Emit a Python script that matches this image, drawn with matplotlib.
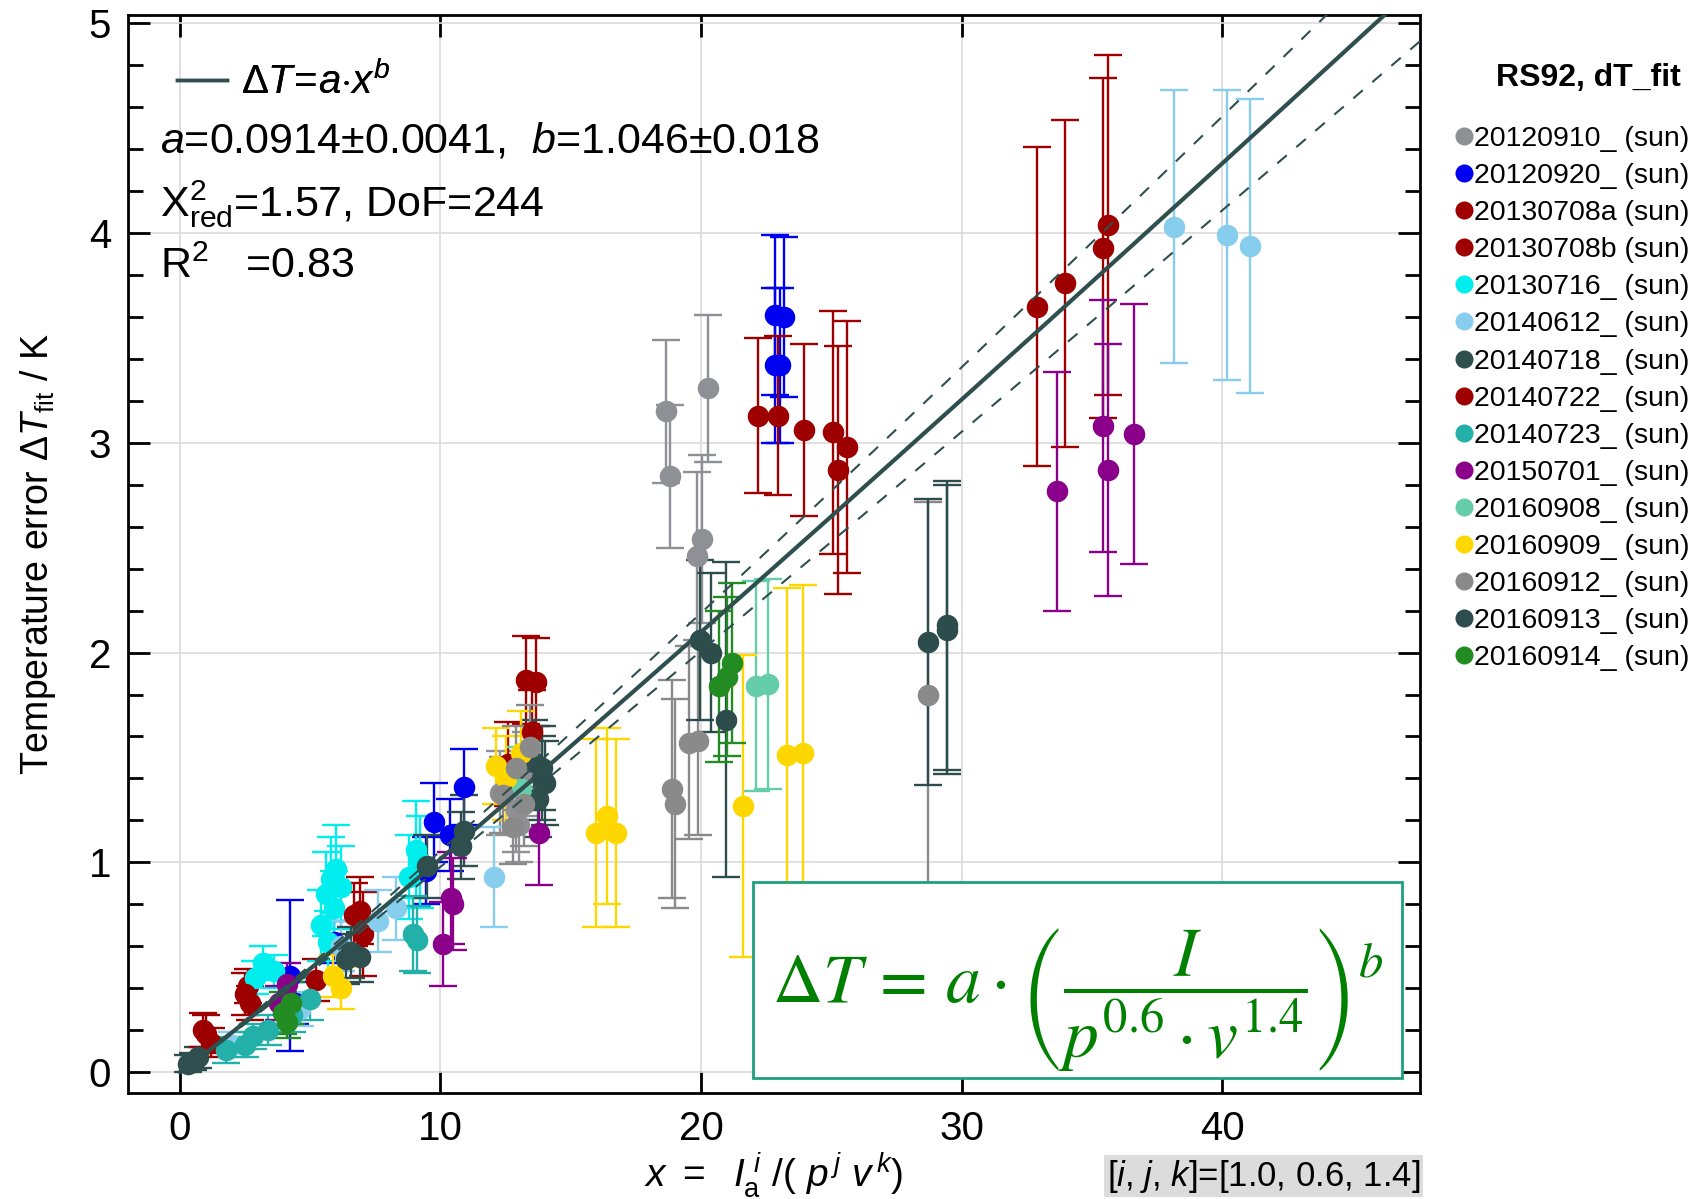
import numpy as np
import matplotlib
matplotlib.use('Agg')
import matplotlib.pyplot as plt
from matplotlib.lines import Line2D
from matplotlib.patches import Rectangle
from matplotlib.ticker import MultipleLocator

plt.rcParams['font.family'] = ['Liberation Sans', 'DejaVu Sans']
plt.rcParams['mathtext.fontset'] = 'custom'
plt.rcParams['mathtext.rm'] = 'Liberation Sans'
plt.rcParams['mathtext.it'] = 'Liberation Sans:italic'
plt.rcParams['mathtext.bf'] = 'Liberation Sans:bold'

# ---------------- data ----------------
series_names = ['20120910_ (sun)', '20120920_ (sun)', '20130708a (sun)', '20130708b (sun)',
                '20130716_ (sun)', '20140612_ (sun)', '20140718_ (sun)', '20140722_ (sun)',
                '20140723_ (sun)', '20150701_ (sun)', '20160908_ (sun)', '20160909_ (sun)',
                '20160912_ (sun)', '20160913_ (sun)', '20160914_ (sun)']
series_colors = ['#8f8f96', '#0000f0', '#9e0000', '#9e0000', '#00eeee', '#87cdee', '#2f4f4f',
                 '#9e0000', '#22b0a8', '#8b008b', '#66cdaa', '#ffd700', '#8a8a8a', '#2d4d4d',
                 '#228b22']
legend_title = 'RS92, dT_fit'

x_20120910 = [18.67, 18.8, 20.25, 20.04, 19.83, 12.3, 12.9, 13.3, 13.0]
y_20120910 = [3.15, 2.84, 3.26, 2.54, 2.46, 1.33, 1.25, 1.42, 1.18]
e_20120910 = [0.34, 0.34, 0.35, 0.40, 0.40, 0.2, 0.2, 0.2, 0.18]

x_20120920 = [22.83, 23.17, 22.83, 23.04, 9.77, 10.92, 10.35, 9.45, 4.21, 4.4, 5.9]
y_20120920 = [3.61, 3.60, 3.37, 3.37, 1.19, 1.36, 1.13, 0.96, 0.46, 0.33, 0.62]
e_20120920 = [0.38, 0.38, 0.37, 0.37, 0.19, 0.18, 0.17, 0.16, 0.36, 0.1, 0.1]

x_20130708a = [22.17, 22.96, 23.96, 13.29, 13.67, 6.9, 1.0, 1.2]
y_20130708a = [3.13, 3.13, 3.06, 1.87, 1.86, 0.77, 0.18, 0.14]
e_20130708a = [0.37, 0.38, 0.41, 0.21, 0.21, 0.16, 0.09, 0.07]

x_20130708b = [25.08, 25.25, 25.6, 7.02, 2.6, 2.7, 5.23, 13.5]
y_20130708b = [3.05, 2.87, 2.98, 0.66, 0.41, 0.33, 0.44, 1.62]
e_20130708b = [0.58, 0.59, 0.60, 0.2, 0.08, 0.08, 0.1, 0.2]

x_20130716 = [5.4, 5.6, 5.8, 6.0, 6.2, 5.7, 5.9, 9.07, 8.81, 9.2, 2.9, 3.2, 3.6]
y_20130716 = [0.70, 0.85, 0.92, 0.97, 0.88, 0.62, 0.78, 1.06, 0.93, 1.0, 0.45, 0.52, 0.48]
e_20130716 = [0.17, 0.2, 0.2, 0.21, 0.2, 0.15, 0.18, 0.23, 0.2, 0.22, 0.08, 0.08, 0.08]

x_20140612 = [38.13, 40.17, 41.08, 12.07, 7.6, 8.3, 2.0, 4.6, 6.2]
y_20140612 = [4.03, 3.99, 3.94, 0.93, 0.72, 0.78, 0.13, 0.30, 0.60]
e_20140612 = [0.65, 0.69, 0.70, 0.24, 0.15, 0.15, 0.06, 0.08, 0.12]

x_20140718 = [13.6, 13.9, 13.75, 10.92, 10.8, 6.38, 6.55, 6.9, 0.31, 0.5, 0.7, 9.5]
y_20140718 = [1.48, 1.40, 1.30, 1.15, 1.08, 0.54, 0.57, 0.55, 0.04, 0.05, 0.07, 0.98]
e_20140718 = [0.2, 0.2, 0.18, 0.17, 0.16, 0.12, 0.12, 0.12, 0.04, 0.04, 0.05, 0.15]

x_20140722 = [32.9, 33.96, 35.42, 35.63, 6.7, 0.9, 2.5, 12.6]
y_20140722 = [3.65, 3.76, 3.93, 4.04, 0.75, 0.2, 0.37, 1.47]
e_20140722 = [0.76, 0.78, 0.81, 0.81, 0.15, 0.08, 0.1, 0.2]

x_20140723 = [8.94, 9.1, 1.78, 2.5, 2.8, 3.4, 4.3, 5.0]
y_20140723 = [0.66, 0.63, 0.105, 0.13, 0.17, 0.2, 0.27, 0.35]
e_20140723 = [0.18, 0.16, 0.06, 0.06, 0.06, 0.07, 0.08, 0.1]

x_20150701 = [33.67, 35.42, 35.63, 36.63, 13.8, 10.41, 10.5, 10.09, 4.13, 3.8]
y_20150701 = [2.77, 3.08, 2.87, 3.04, 1.14, 0.83, 0.80, 0.61, 0.42, 0.33]
e_20150701 = [0.57, 0.60, 0.60, 0.62, 0.25, 0.22, 0.22, 0.2, 0.1, 0.08]

x_20160908 = [22.1, 22.56, 13.1]
y_20160908 = [1.84, 1.85, 1.35]
e_20160908 = [0.5, 0.5, 0.2]

x_20160909 = [15.97, 16.4, 16.74, 21.6, 23.3, 23.9, 12.14, 12.5, 13.1, 5.87, 6.2]
y_20160909 = [1.14, 1.22, 1.14, 1.27, 1.51, 1.52, 1.46, 1.40, 1.52, 0.46, 0.40]
e_20160909 = [0.45, 0.42, 0.45, 0.72, 0.8, 0.8, 0.18, 0.2, 0.2, 0.1, 0.1]

x_20160912 = [18.9, 19.0, 19.55, 19.9, 28.71, 12.4, 12.8, 13.2, 13.45, 12.9]
y_20160912 = [1.35, 1.28, 1.57, 1.58, 1.80, 1.32, 1.17, 1.28, 1.55, 1.45]
e_20160912 = [0.52, 0.5, 0.46, 0.45, 0.92, 0.18, 0.18, 0.2, 0.2, 0.2]

x_20160913 = [28.71, 29.42, 29.42, 19.96, 20.4, 20.96, 13.9, 14.0]
y_20160913 = [2.05, 2.13, 2.11, 2.06, 2.00, 1.68, 1.45, 1.38]
e_20160913 = [0.68, 0.69, 0.69, 0.38, 0.38, 0.75, 0.2, 0.2]

x_20160914 = [20.7, 21.0, 21.2, 3.95, 4.1, 4.25]
y_20160914 = [1.84, 1.885, 1.95, 0.28, 0.24, 0.33]
e_20160914 = [0.36, 0.38, 0.38, 0.1, 0.08, 0.1]

series_x = [x_20120910, x_20120920, x_20130708a, x_20130708b, x_20130716, x_20140612, x_20140718,
            x_20140722, x_20140723, x_20150701, x_20160908, x_20160909, x_20160912, x_20160913,
            x_20160914]
series_y = [y_20120910, y_20120920, y_20130708a, y_20130708b, y_20130716, y_20140612, y_20140718,
            y_20140722, y_20140723, y_20150701, y_20160908, y_20160909, y_20160912, y_20160913,
            y_20160914]
series_e = [e_20120910, e_20120920, e_20130708a, e_20130708b, e_20130716, e_20140612, e_20140718,
            e_20140722, e_20140723, e_20150701, e_20160908, e_20160909, e_20160912, e_20160913,
            e_20160914]

# fit parameters
fit_a, fit_da = 0.0914, 0.0041
fit_b, fit_db = 1.046, 0.018
fit_corr = -0.63
chi2_red, dof, r2 = 1.57, 244, 0.83
ijk = [1.0, 0.6, 1.4]

# ---------------- figure ----------------
fig = plt.figure(figsize=(17.03, 11.99), dpi=100)
ax = fig.add_axes([0.075, 0.0884, 0.759, 0.8991])
ax.set_xlim(-2.0, 47.6)
ax.set_ylim(-0.1, 5.04)

ax.grid(True, which='major', color='#dadada', lw=1.2, zorder=0)
ax.set_axisbelow(True)

for xs, ys, es, c in zip(series_x, series_y, series_e, series_colors):
    ax.errorbar(xs, ys, yerr=es, fmt='o', color=c, ms=15.5, mec='none',
                capsize=10, elinewidth=1.7, capthick=1.7, zorder=2)

xf = np.linspace(0.001, 47.6, 400)
f = fit_a * xf ** fit_b
t1 = xf ** fit_b * fit_da
t2 = f * np.log(xf) * fit_db
sig = np.sqrt(np.clip(t1 ** 2 + t2 ** 2 + 2 * fit_corr * t1 * t2, 0, None))
fit_line, = ax.plot(xf, f, color='#2f4f4f', lw=3, zorder=4)
ax.plot(xf, f + sig, color='#2f4f4f', lw=1.5, ls=(0, (6, 6)), zorder=4)
ax.plot(xf, f - sig, color='#2f4f4f', lw=1.5, ls=(0, (6, 6)), zorder=4)

# ticks
ax.xaxis.set_major_locator(MultipleLocator(10))
ax.yaxis.set_major_locator(MultipleLocator(1))
ax.yaxis.set_minor_locator(MultipleLocator(0.2))
ax.tick_params(which='both', direction='in', top=True, right=True, width=2, labelsize=29)
ax.tick_params(which='major', length=16, pad=12)
ax.tick_params(axis='x', which='minor', bottom=False, top=False)
ax.tick_params(axis='y', which='minor', length=11)
for sp in ax.spines.values():
    sp.set_linewidth(2)

ax.set_ylabel(r'Temperature error $\Delta T_{\rm fit}$ / K', fontsize=27, labelpad=22)
ax.set_xlabel(r'$x\ =\ \ I_{\rm a}^{\ i}\ /(\ p^{\,j}\ v^{\,k})$', fontsize=28, labelpad=2)

# fit legend & stats
leg1 = ax.legend(handles=[fit_line], labels=[r'$\Delta T\!=\!a{\cdot}x^{b}$'], loc='upper left',
                 bbox_to_anchor=(0.01, 0.99), frameon=False, fontsize=29,
                 handlelength=1.25, handletextpad=0.35)
leg1.get_lines()[0].set_linewidth(2.5)
ax.add_artist(leg1)
ax.text(0.025, 0.883, r'$a$=%.4f±%.4f,  $b$=%.3f±%.3f' % (fit_a, fit_da, fit_b, fit_db),
        transform=ax.transAxes, fontsize=31, va='center')
ax.text(0.025, 0.825, r'$\mathrm{X}^{2}_{\mathrm{red}}$=%.2f, DoF=%d' % (chi2_red, dof),
        transform=ax.transAxes, fontsize=31, va='center')
ax.text(0.025, 0.766, r'R$^{2}$   =%.2f' % r2, transform=ax.transAxes, fontsize=31, va='center')

# equation box
ax.add_patch(Rectangle((0.484, 0.014), 0.502, 0.182, transform=ax.transAxes,
                       facecolor='white', edgecolor='#1f9f7f', lw=2, zorder=6))
ax.text(0.735, 0.087, r'$\Delta T\,=\,a\cdot\left(\dfrac{I}{p^{0.6}\cdot v^{1.4}}\right)^{b}$',
        transform=ax.transAxes, fontsize=50, color='#008000', ha='center', va='center',
        math_fontfamily='stix', zorder=7)

fig.text(0.834, 0.019, r'[$i$, $j$, $k$]=[%.1f, %.1f, %.1f]' % tuple(ijk), fontsize=25,
         ha='right', va='center',
         bbox=dict(facecolor='#dcdcdc', edgecolor='none', pad=2))

# series legend
fig.text(0.987, 0.935, legend_title, fontsize=23, fontweight='bold', ha='right', va='center')
handles = [Line2D([], [], marker='o', ls='none', color=c, mec='none', ms=13)
           for c in series_colors]
fig.legend(handles, series_names, loc='upper right', bbox_to_anchor=(0.992, 0.895),
           frameon=False, fontsize=20.5, handlelength=0.6,
           handletextpad=0.05, labelspacing=0.39, borderaxespad=0, borderpad=0)

fig.savefig('out.png', dpi=100)
